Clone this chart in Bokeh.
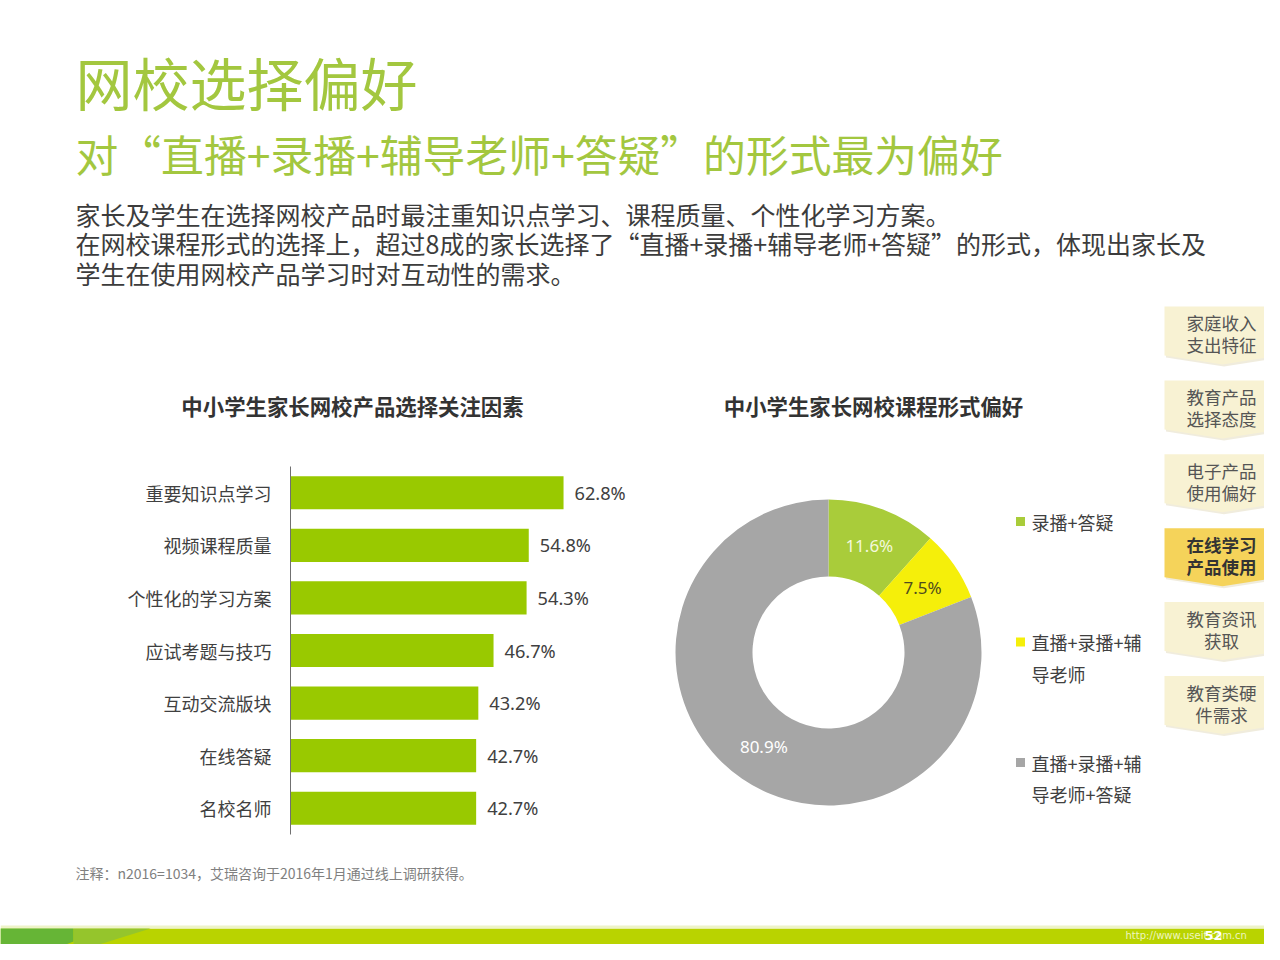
import math
from bokeh.plotting import figure
from bokeh.layouts import column, row
from bokeh.models import ColumnDataSource, Range1d, FactorRange, LabelSet
from bokeh.core.properties import value
from bokeh.embed import file_html
from bokeh.resources import INLINE

FONT = "Noto Sans CJK SC"
NUMFONT = "Noto Sans"

# ---------------- data ----------------
title_main = "网校选择偏好"
title_sub = "对“直播+录播+辅导老师+答疑”的形式最为偏好"
intro_lines = [
    "家长及学生在选择网校产品时最注重知识点学习、课程质量、个性化学习方案。",
    "在网校课程形式的选择上，超过8成的家长选择了“直播+录播+辅导老师+答疑”的形式，体现出家长及",
    "学生在使用网校产品学习时对互动性的需求。",
]
bar_title = "中小学生家长网校产品选择关注因素"
factors = ["重要知识点学习", "视频课程质量", "个性化的学习方案", "应试考题与技巧",
           "互动交流版块", "在线答疑", "名校名师"]
factor_values = [62.8, 54.8, 54.3, 46.7, 43.2, 42.7, 42.7]

donut_title = "中小学生家长网校课程形式偏好"
form_names = ["录播+答疑", "直播+录播+辅\n导老师", "直播+录播+辅\n导老师+答疑"]
form_shares = [11.6, 7.5, 80.9]

tab_names = ["家庭收入\n支出特征", "教育产品\n选择态度", "电子产品\n使用偏好",
             "在线学习\n产品使用", "教育资讯\n获取", "教育类硬\n件需求"]
active_tab = "在线学习\n产品使用"

note = "注释：n2016=1034，艾瑞咨询于2016年1月通过线上调研获得。"
footer_url = "http://www.useit.com.cn"
page_no = "52"

# ---------------- styles ----------------
GREEN_TITLE = "#a3c73f"
BAR_GREEN = "#99c900"
DONUT_COLORS = ["#a9cc3a", "#f5ef0a", "#a6a6a6"]
DONUT_TEXT = ["#f3f8dc", "#4f4c1e", "#ffffff"]
TEXT = "#3c3c3c"
W, H = 1264, 944


def blank(width, height, x_range, y_range):
    p = figure(width=width, height=height, x_range=x_range, y_range=y_range,
               output_backend="svg", toolbar_location=None,
               x_axis_location=None, y_axis_location=None,
               min_border=0, outline_line_color=None)
    p.grid.visible = False
    p.background_fill_color = "white"
    p.border_fill_color = "white"
    return p


def put(p, x, y, txt, size, color, style="normal", align="left",
        baseline="middle", font=FONT):
    p.text(x=[x], y=[y], text=[txt], text_font=value(font),
           text_font_size=size, text_color=color, text_font_style=style,
           text_align=align, text_baseline=baseline)


# ---------------- header (page pixel coords) ----------------
head = blank(W, 300, Range1d(0, W), Range1d(300, 0))
put(head, 75, 80, title_main, "57px", GREEN_TITLE)
put(head, 75, 152, title_sub, "42.8px", GREEN_TITLE)
for i, line in enumerate(intro_lines):
    put(head, 75, 213 + i * 29.5, line, "25px", TEXT)

# ---------------- chart titles ----------------
titles = blank(1160, 140, Range1d(0, 1160), Range1d(440, 300))
put(titles, 352, 405, bar_title, "21.4px", "#333333", style="bold", align="center")
put(titles, 873, 405, donut_title, "21.4px", "#333333", style="bold", align="center")

# ---------------- bar chart ----------------
bar = figure(width=640, height=410, output_backend="svg", toolbar_location=None,
             x_range=Range1d(0, 80.5), y_range=FactorRange(*reversed(factors)),
             x_axis_location=None, outline_line_color=None,
             min_border_left=290, min_border_right=0,
             min_border_top=26, min_border_bottom=16)
bar.grid.visible = False
src = ColumnDataSource(dict(cat=factors, val=factor_values,
                            lbl=[f"{v:.1f}%" for v in factor_values]))
bar.hbar(y="cat", right="val", left=0, height=0.63, source=src,
         fill_color=BAR_GREEN, line_color=None)
bar.add_layout(LabelSet(x="val", y="cat", text="lbl", source=src, x_offset=11,
                        text_baseline="middle", text_font=value(NUMFONT),
                        text_font_size="18.2px", text_color="#404040"))
ax = bar.yaxis[0]
ax.major_tick_line_color = None
ax.minor_tick_line_color = None
ax.major_tick_out = 0
ax.major_tick_in = 0
ax.axis_line_color = "#707070"
ax.axis_line_width = 1
ax.major_label_text_font = FONT
ax.major_label_text_font_size = "18px"
ax.major_label_text_color = "#404040"
ax.major_label_standoff = 19

# ---------------- donut ----------------
donut = blank(520, 410, Range1d(-188, 332), Range1d(-198, 212))
R_OUT, R_IN = 153, 76
cum = [0.0]
for s in form_shares:
    cum.append(cum[-1] + s)
starts = [math.pi / 2 - 2 * math.pi * c / 100 for c in cum[:-1]]
ends = [math.pi / 2 - 2 * math.pi * c / 100 for c in cum[1:]]
mids = [(a + b) / 2 for a, b in zip(starts, ends)]
rm = (R_OUT + R_IN) / 2
dsrc = ColumnDataSource(dict(
    start=starts, end=ends, color=DONUT_COLORS, tcolor=DONUT_TEXT,
    lx=[rm * math.cos(m) for m in mids], ly=[rm * math.sin(m) for m in mids],
    lbl=[f"{s:.1f}%" for s in form_shares]))
donut.annular_wedge(x=0, y=0, inner_radius=R_IN, outer_radius=R_OUT,
                    start_angle="start", end_angle="end", direction="clock",
                    fill_color="color", line_color=None, source=dsrc)
donut.text(x="lx", y="ly", text="lbl", text_color="tcolor", source=dsrc,
           text_font=value(NUMFONT), text_font_size="17px",
           text_align="center", text_baseline="middle")
# legend
leg_y = [131 - i * 120.5 for i in range(len(form_names))]
donut.scatter(x=[192] * len(form_names), y=leg_y, marker="square", size=9,
              fill_color=DONUT_COLORS, line_color=None)
lx, ly, lt = [], [], []
for name, y0 in zip(form_names, leg_y):
    for k, part in enumerate(name.split("\n")):
        lx.append(203)
        ly.append(y0 - k * 31.5)
        lt.append(part)
donut.text(x=lx, y=ly, text=lt, text_font=value(FONT), text_font_size="18px",
           text_color="#404040", text_baseline="middle", text_align="left")

# ---------------- side tabs (page pixel coords) ----------------
side = blank(W - 1160, 550, Range1d(1160, W), Range1d(850, 300))
txs, tys, ttxt, tcol, tsty = [], [], [], [], []
for i, name in enumerate(tab_names):
    c = 333 + i * 73.9
    active = name == active_tab
    left, right, top, bot, tip = 1164, 1280, c - 27, c + 22, c + 31
    xs = [left, right, right, (left + right) / 2, left]
    ys = [top, top, bot, tip, bot]
    side.patch([x + 1.5 for x in xs], [y + 2 for y in ys],
               fill_color="#e9e4cf", line_color=None, fill_alpha=0.7)
    side.patch(xs, ys, fill_color="#f5d35a" if active else "#f8f2d3",
               line_color=None)
    for k, part in enumerate(name.split("\n")):
        txs.append(1221)
        tys.append(c - 11 + k * 22)
        ttxt.append(part)
        tcol.append("#333333" if active else "#555555")
        tsty.append("bold" if active else "normal")
side.text(x=txs, y=tys, text=ttxt, text_color=tcol, text_font_style=tsty,
          text_font=value(FONT), text_font_size="17.5px",
          text_align="center", text_baseline="middle")

# ---------------- footer (page pixel coords) ----------------
foot = blank(W, H - 850, Range1d(0, W), Range1d(H, 850))
put(foot, 75, 872, note, "14px", "#808080")
foot.quad(left=[0], right=[W], top=[928], bottom=[H + 20], fill_color="#b9d300",
          line_color=None)
foot.quad(left=[0], right=[W], top=[925], bottom=[928], fill_color="#eef3c8",
          line_color=None)
foot.patch([0, 73, 73, 25, 0], [928, 928, 941, 960, 960], fill_color="#66b536",
           line_color=None)
foot.patch([73, 150, 73], [928, 928, 952], fill_color="#95c52c", line_color=None)
put(foot, 1125, 935, footer_url, "10px", "#eef5c0", font="DejaVu Sans")
put(foot, 1204, 934.5, page_no, "13px", "#ffffff", style="bold", font="DejaVu Sans")

mid = row(column(titles, row(column(bar), column(donut))), column(side))
layout = column(head, mid, foot)
open("out.html", "w").write(file_html(layout, INLINE))
